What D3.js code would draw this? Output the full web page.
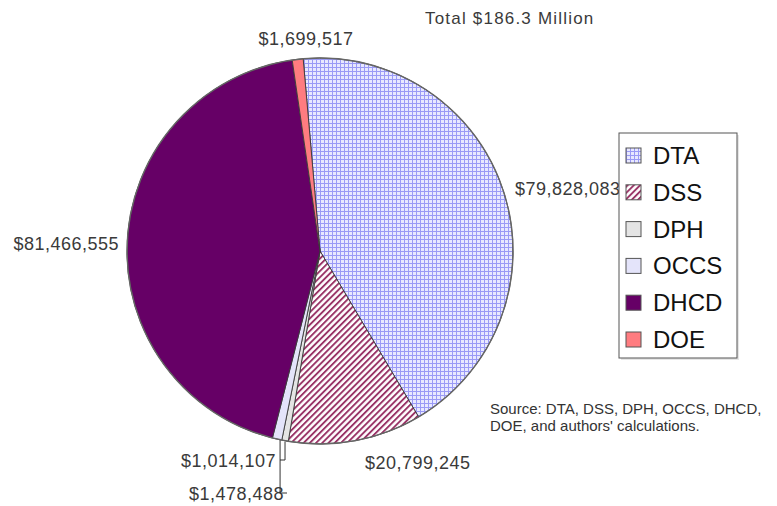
<!DOCTYPE html>
<html>
<head>
<meta charset="utf-8">
<script src="https://cdn.jsdelivr.net/npm/d3@7"></script>
<style>
  body { margin: 0; background: #fff; }
  svg { display: block; font-family: Arial, "Liberation Sans", sans-serif; }
</style>
</head>
<body>
<div id="chart"></div>
<script>
// agencies in pie order (clockwise from the top)
var agencies = ["DTA", "DSS", "DPH", "OCCS", "DHCD", "DOE"];
var amounts = [79828083, 20799245, 1014107, 1478488, 81466555, 1699517];
var amountLabels = ["$79,828,083", "$20,799,245", "$1,014,107", "$1,478,488", "$81,466,555", "$1,699,517"];
var totalLabel = "Total $186.3 Million";
var sourceLines = ["Source: DTA, DSS, DPH, OCCS, DHCD,", "DOE, and authors' calculations."];

var width = 777, height = 506;
var cx = 320, cy = 251, radius = 193;
var startDeg = -5;

var svg = d3.select("#chart").append("svg")
    .attr("width", width)
    .attr("height", height);

var defs = svg.append("defs");

// fine blue grid for DTA
var grid = defs.append("pattern")
    .attr("id", "gridFill")
    .attr("patternUnits", "userSpaceOnUse")
    .attr("width", 4).attr("height", 4);
grid.append("rect").attr("width", 4).attr("height", 4).attr("fill", "#e8e8ff");
grid.append("path").attr("d", "M0,0.5H4M0.5,0V4")
    .attr("stroke", "#9a9af6").attr("stroke-width", 1);

// maroon diagonal stripes for DSS
var stripes = defs.append("pattern")
    .attr("id", "stripeFill")
    .attr("patternUnits", "userSpaceOnUse")
    .attr("width", 4.4).attr("height", 4.4)
    .attr("patternTransform", "rotate(45)");
stripes.append("rect").attr("width", 4.4).attr("height", 4.4).attr("fill", "#fff");
stripes.append("rect").attr("width", 1.9).attr("height", 4.4).attr("fill", "#993366");

var fills = {
    DTA: "url(#gridFill)",
    DSS: "url(#stripeFill)",
    DPH: "#e4e4e4",
    OCCS: "#e4e4fa",
    DHCD: "#660066",
    DOE: "#ff7c80"
};

var data = agencies.map(function(a, i) {
    return { name: a, value: amounts[i], label: amountLabels[i] };
});

var pie = d3.pie()
    .sort(null)
    .value(function(d) { return d.value; })
    .startAngle(startDeg * Math.PI / 180)
    .endAngle(2 * Math.PI + startDeg * Math.PI / 180);

var arc = d3.arc().innerRadius(0).outerRadius(radius);
var arcs = pie(data);

var g = svg.append("g").attr("transform", "translate(" + cx + "," + cy + ")");

g.selectAll("path.slice")
    .data(arcs)
    .enter().append("path")
    .attr("class", "slice")
    .attr("d", arc)
    .attr("fill", function(d) { return fills[d.data.name]; })
    .attr("stroke", "#3a3a3a")
    .attr("stroke-width", 0.9);

g.append("circle")
    .attr("r", radius)
    .attr("fill", "none")
    .attr("stroke", "#666")
    .attr("stroke-width", 1.4);

// point on the rim at the middle of a slice
function rimPoint(d, r) {
    var a = (d.startAngle + d.endAngle) / 2;
    return [cx + r * Math.sin(a), cy - r * Math.cos(a)];
}

var labelStyle = function(sel) {
    sel.attr("fill", "#3a3a3a")
        .style("font-size", "18px")
        .style("letter-spacing", "0.5px");
};

// label placement per slice
var labelPlace = {
    DTA: { x: 515, y: 195, anchor: "start" },
    DSS: { x: 365, y: 469, anchor: "start" },
    DPH: { x: 276, y: 467, anchor: "end" },
    OCCS: { x: 284, y: 500, anchor: "end" },
    DHCD: { x: 119, y: 250, anchor: "end" },
    DOE: { x: 306, y: 45, anchor: "middle" }
};

svg.selectAll("text.value")
    .data(arcs)
    .enter().append("text")
    .attr("class", "value")
    .attr("x", function(d) { return labelPlace[d.data.name].x; })
    .attr("y", function(d) { return labelPlace[d.data.name].y; })
    .attr("text-anchor", function(d) { return labelPlace[d.data.name].anchor; })
    .call(labelStyle)
    .text(function(d) { return d.data.label; });

// leader lines for the two tiny slices
var p1 = rimPoint(arcs[2], radius);
var p2 = rimPoint(arcs[3], radius);
svg.append("path")
    .attr("d", "M" + (labelPlace.DPH.x + 4) + "," + (labelPlace.DPH.y - 7) +
        "H" + p1[0] + "V" + (p1[1] + 1))
    .attr("fill", "none").attr("stroke", "#333").attr("stroke-width", 1);
svg.append("path")
    .attr("d", "M" + (labelPlace.OCCS.x + 3) + "," + (labelPlace.OCCS.y - 7) +
        "H" + (p2[0] + 3) + "V" + (p2[1] + 1))
    .attr("fill", "none").attr("stroke", "#333").attr("stroke-width", 1);

svg.append("text")
    .attr("x", 425).attr("y", 24)
    .attr("fill", "#3a3a3a")
    .style("font-size", "17px")
    .style("letter-spacing", "1.2px")
    .text(totalLabel);

svg.selectAll("text.source")
    .data(sourceLines)
    .enter().append("text")
    .attr("class", "source")
    .attr("x", 490)
    .attr("y", function(d, i) { return 414 + i * 17; })
    .attr("fill", "#333")
    .style("font-size", "15px")
    .text(function(d) { return d; });

// legend
var legend = svg.append("g").attr("transform", "translate(619,133)");
legend.append("rect")
    .attr("x", 2).attr("y", 2)
    .attr("width", 118).attr("height", 225)
    .attr("fill", "#e6e6e6");
legend.append("rect")
    .attr("width", 118).attr("height", 225)
    .attr("fill", "#fff")
    .attr("stroke", "#555")
    .attr("stroke-width", 1);

var item = legend.selectAll("g.item")
    .data(agencies)
    .enter().append("g")
    .attr("class", "item")
    .attr("transform", function(d, i) { return "translate(7," + (22 + i * 36.8) + ")"; });

item.append("rect")
    .attr("x", 0).attr("y", -7)
    .attr("width", 15).attr("height", 15)
    .attr("fill", function(d) { return fills[d]; })
    .attr("stroke", "#555")
    .attr("stroke-width", 1);

item.append("text")
    .attr("x", 27).attr("y", 9)
    .attr("fill", "#111")
    .style("font-size", "24px")
    .text(function(d) { return d; });
</script>
</body>
</html>
